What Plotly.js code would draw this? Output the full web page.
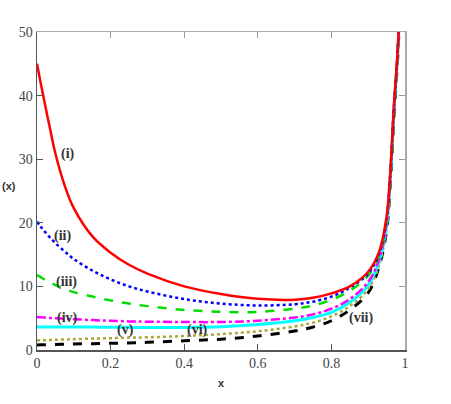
<!DOCTYPE html>
<html>
<head>
<meta charset="utf-8">
<script src="https://cdn.plot.ly/plotly-3.0.1.min.js"></script>
<style>html,body{margin:0;padding:0;background:#fff;}#chart{width:451px;height:404px;}</style>
</head>
<body>
<div id="chart"></div>
<script>
const xs = [0, 0.01, 0.02, 0.035, 0.05, 0.075, 0.1, 0.15, 0.2, 0.25, 0.3, 0.4, 0.5, 0.6, 0.7, 0.75, 0.8, 0.85, 0.9, 0.93, 0.95, 0.96, 0.97, 0.98, 0.99];
const curveI   = [45, 42.0, 39.1, 34.9, 30.9, 25.9, 22.3, 17.9, 15.3, 13.4, 12.0, 10.0, 8.8, 8.05, 7.9, 8.2, 8.9, 10.0, 12.3, 15.5, 21, 28, 38.5, 47, 60];
const curveII  = [20.2, 19.4, 18.7, 17.7, 16.8, 15.5, 14.3, 12.5, 11.1, 10.0, 9.2, 8.0, 7.3, 7.0, 7.2, 7.6, 8.4, 9.8, 12.0, 15.2, 20.7, 27.8, 38.3, 46.8, 60];
const curveIII = [11.8, 11.45, 11.1, 10.65, 10.2, 9.6, 9.1, 8.4, 7.8, 7.3, 6.9, 6.3, 6.0, 6.0, 6.5, 7.0, 7.9, 9.3, 11.7, 15.0, 20.4, 27.6, 38.2, 46.7, 60];
const curveIV  = [5.2, 5.15, 5.1, 5.05, 5.0, 4.92, 4.85, 4.7, 4.6, 4.5, 4.45, 4.4, 4.4, 4.6, 5.1, 5.6, 6.5, 8.0, 10.7, 14.3, 20.0, 27.3, 38.0, 46.6, 60];
const curveV   = [3.6, 3.6, 3.6, 3.6, 3.6, 3.6, 3.6, 3.6, 3.58, 3.56, 3.55, 3.55, 3.65, 4.0, 4.6, 5.1, 5.9, 7.5, 10.2, 14.0, 19.7, 27.1, 37.8, 46.5, 60];
const curveVI  = [1.5, 1.52, 1.55, 1.58, 1.6, 1.65, 1.7, 1.8, 1.85, 1.95, 2.0, 2.2, 2.5, 2.95, 3.7, 4.3, 5.3, 6.9, 9.6, 13.4, 19.3, 26.7, 37.4, 46.3, 60];
const curveVII = [0.8, 0.81, 0.82, 0.85, 0.87, 0.91, 0.95, 1.0, 1.05, 1.1, 1.2, 1.45, 1.7, 2.2, 3.0, 3.6, 4.6, 6.3, 9.0, 13.2, 18.8, 26.0, 36.6, 45.8, 59];

const labelText = ['(i)', '(ii)', '(iii)', '(iv)', '(v)', '(vi)', '(vii)'];
const labelX = [0.085, 0.068, 0.079, 0.082, 0.240, 0.437, 0.880];
const labelY = [30.8, 18.0, 10.7, 5.1, 3.2, 3.1, 5.1];

const xTicks = [0, 0.2, 0.4, 0.6, 0.8, 1];
const yTicks = [0, 10, 20, 30, 40, 50];

const SERIF = "'Liberation Serif', 'Times New Roman', Times, serif";
const SANS = "'Liberation Sans', Arial, sans-serif";

function tr(y, color, dash, width) {
  return {x: xs, y: y, mode: 'lines', type: 'scatter', hoverinfo: 'skip',
          line: {color: color, dash: dash, width: width, shape: 'spline', smoothing: 1}};
}

const data = [
  tr(curveVII, '#000000', 'dash', 3),
  tr(curveVI, '#a8a838', 'dot', 2.5),
  tr(curveV, '#00ffff', 'solid', 3),
  tr(curveIV, '#ff00ff', 'dashdot', 2.5),
  tr(curveIII, '#00dd00', 'dash', 2.5),
  tr(curveII, '#0000ff', 'dot', 2.5),
  tr(curveI, '#ff0000', 'solid', 2.5)
];

const ann = labelText.map((t, i) => ({
  x: labelX[i], y: labelY[i], xref: 'x', yref: 'y', text: '<b>' + t + '</b>',
  showarrow: false, font: {family: SERIF, size: 14, color: '#333'}
}));
ann.push({x: -0.076, y: 0.515, xref: 'paper', yref: 'paper', xanchor: 'center', yanchor: 'middle',
  text: '<b>(x)</b>', showarrow: false, font: {family: SANS, size: 11, color: '#333'}});

const layout = {
  width: 451, height: 404,
  margin: {l: 37, r: 46, t: 32, b: 54},
  paper_bgcolor: '#fff', plot_bgcolor: '#fff',
  showlegend: false,
  xaxis: {range: [0, 1], tickvals: xTicks, ticktext: xTicks.map(String), ticks: 'inside', ticklen: 6,
          tickcolor: '#555', showline: true, linecolor: '#555', linewidth: 1.5, showgrid: false, zeroline: false,
          tickfont: {family: SERIF, size: 14, color: '#444'},
          title: {text: '<b>x</b>', font: {family: SANS, size: 11, color: '#333'}, standoff: 9}},
  yaxis: {range: [0, 50], tickvals: yTicks, ticktext: yTicks.map(String), ticks: 'inside', ticklen: 6,
          tickcolor: '#555', showline: true, linecolor: '#555', linewidth: 1.5, showgrid: false, zeroline: false,
          tickfont: {family: SERIF, size: 14, color: '#444'}},
  xaxis2: {overlaying: 'x', side: 'top', range: [0, 1], tickvals: xTicks, showticklabels: false, ticks: 'inside',
           ticklen: 6, tickcolor: '#999', showline: true, linecolor: '#aaa', linewidth: 1.5, showgrid: false, zeroline: false, matches: 'x'},
  yaxis2: {overlaying: 'y', side: 'right', range: [0, 50], tickvals: yTicks, showticklabels: false, ticks: 'inside',
           ticklen: 6, tickcolor: '#999', showline: true, linecolor: '#aaa', linewidth: 1.5, showgrid: false, zeroline: false},
  annotations: ann
};
data.push({x: [0], y: [0], xaxis: 'x2', yaxis: 'y2', mode: 'markers', marker: {opacity: 0}, hoverinfo: 'skip'});

Plotly.newPlot('chart', data, layout, {staticPlot: true});
</script>
</body>
</html>
